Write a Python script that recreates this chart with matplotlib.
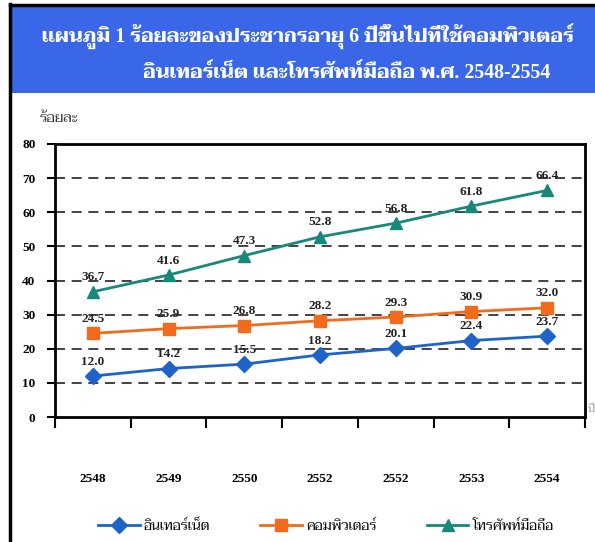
import matplotlib
matplotlib.use("Agg")
import matplotlib.pyplot as plt
from matplotlib.patches import Rectangle
from matplotlib.lines import Line2D
import numpy as np

# data
years = ["2548", "2549", "2550", "2552", "2552", "2553", "2554"]
internet = [12.0, 14.2, 15.5, 18.2, 20.1, 22.4, 23.7]
computer = [24.5, 25.9, 26.8, 28.2, 29.3, 30.9, 32.0]
mobile = [36.7, 41.6, 47.3, 52.8, 56.8, 61.8, 66.4]
names = ["อินเทอร์เน็ต", "คอมพิวเตอร์", "โทรศัพท์มือถือ"]

FAM = ["Liberation Serif", "Taviraj", "DejaVu Serif"]
THAI = ["Taviraj", "DejaVu Serif"]
plt.rcParams["font.family"] = FAM

fig = plt.figure(figsize=(5.95, 5.42), dpi=100)
W, H = 595, 542

# header box + outer border
fig.patches.append(Rectangle((11 / W, 1 - 93 / H), 1, 87 / H, transform=fig.transFigure,
                             facecolor="#3a67e8", edgecolor="none", zorder=0))
fig.add_artist(Line2D([10 / W, 10 / W], [0, 1 - 4 / H], color="black", lw=2.5))
fig.add_artist(Line2D([10 / W, 1], [1 - 5 / H, 1 - 5 / H], color="black", lw=2.5))

fig.text(308 / W, 1 - 37 / H, "แผนภูมิ 1 ร้อยละของประชากรอายุ 6 ปีขึ้นไปที่ใช้คอมพิวเตอร์",
         ha="center", va="center", color="white", fontsize=14.3, fontweight="bold")
fig.text(347 / W, 1 - 73 / H, "อินเทอร์เน็ต และโทรศัพท์มือถือ พ.ศ. 2548-2554",
         ha="center", va="center", color="white", fontsize=14.3, fontweight="bold")

fig.text(40 / W, 1 - 118 / H, "ร้อยละ", ha="left", va="center", fontsize=10.5, color="#333333",
         family=THAI)
fig.text(588 / W, 1 - 410 / H, "ปี", ha="left", va="center", fontsize=8, color="#999999",
         family=THAI)

ax = fig.add_axes([55 / W, 1 - 417 / H, 530 / W, 273 / H])
x = np.arange(len(years))

series = [
    (internet, "#1f63c9", "D", 8),
    (computer, "#f26a1b", "s", 8),
    (mobile, "#17887a", "^", 9),
]
for (vals, col, mk, ms), nm in zip(series, names):
    ax.plot(x, vals, color=col, lw=2, marker=mk, markersize=ms, label=nm, zorder=3)
    for xi, v in zip(x, vals):
        ax.annotate(f"{v:.1f}", (xi, v), xytext=(0, 6), textcoords="offset points",
                    ha="center", va="bottom", fontsize=9.5, fontweight="bold", color="#222222",
                    zorder=4)

ax.set_xlim(-0.5, len(years) - 0.5)
ax.set_ylim(0, 80)
ax.set_yticks(range(0, 81, 10))
ax.set_yticklabels([str(v) for v in range(0, 81, 10)], fontsize=9.5, fontweight="bold")
for yv in range(10, 80, 10):
    ax.axhline(yv, color="#222222", lw=1.2, ls=(0, (6, 4)), zorder=1)

ax.set_xticks(x)
ax.set_xticklabels(years, fontsize=9.5, fontweight="bold")
ax.tick_params(axis="x", which="major", length=0, pad=40)
ax.set_xticks(np.arange(-0.5, len(years), 1), minor=True)
ax.tick_params(axis="x", which="minor", length=8, width=1.5, direction="out")
ax.tick_params(axis="y", length=6, width=1.5, direction="out", pad=8)
for s in ax.spines.values():
    s.set_linewidth(2)

handles, labels = ax.get_legend_handles_labels()
fig.legend(handles, labels, loc="center", bbox_to_anchor=(326 / W, 1 - 526 / H), ncol=3,
           frameon=False, prop={"family": THAI, "size": 10}, handlelength=3.0,
           columnspacing=3.6, handletextpad=0.3)

fig.savefig("out.png", dpi=100)
